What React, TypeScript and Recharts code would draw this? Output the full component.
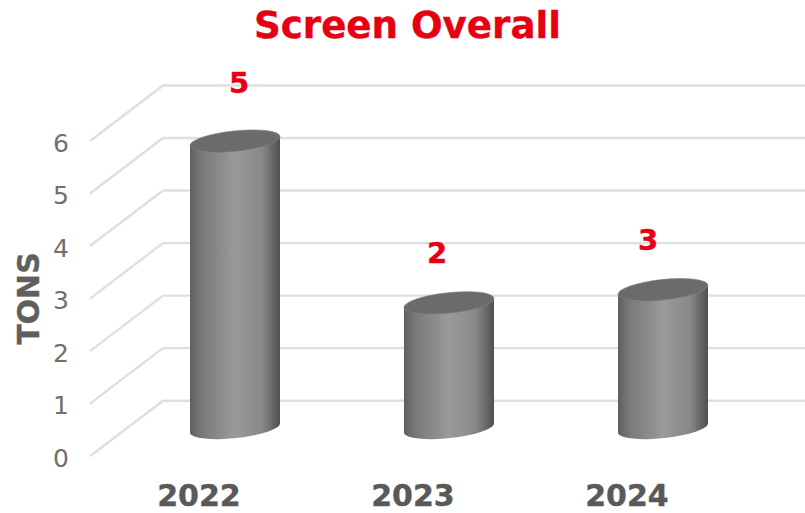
import { BarChart, Bar, XAxis, YAxis, CartesianGrid, LabelList } from 'recharts';

const years = ['2022', '2023', '2024'];
const tons = [5.47, 2.39, 2.64];
const yTicks = [0, 1, 2, 3, 4, 5, 6];

const chartData = years.map((year, i) => ({ year, tons: tons[i] }));

const FONT = '"DejaVu Sans", Verdana, sans-serif';
const RED = '#E60012';

// fake 3D: the wall sits at the plot, the floor comes forward by this much
const PLOT_LEFT = 163;
const DEPTH_X = 73;
const DEPTH_Y = 55.5;
const BAR_SHIFT_X = 35;

// hand placed in the original, not centred on the bars
const labelShift = [
  { dx: 4, dy: -48 },
  { dx: -12, dy: -40 },
  { dx: -15, dy: -40 },
];

const RX = 45.3;
const RY = 10.2;
const TILT = -6;

function Cylinder(props: any) {
  const { x, y, width, height } = props;
  const left = x - BAR_SHIFT_X;
  const right = left + width;
  const cx = left + width / 2;
  const topY = y + DEPTH_Y / 2;
  const baseY = topY + height;
  const rise = RX * Math.sin((TILT * Math.PI) / 180);
  const body = [
    `M${left},${topY - rise}`,
    `L${left},${baseY - rise}`,
    `A${RX},${RY} ${TILT} 0 0 ${right},${baseY + rise}`,
    `L${right},${topY + rise}`,
    `A${RX},${RY} ${TILT} 0 1 ${left},${topY - rise}`,
    'Z',
  ].join(' ');
  return (
    <g>
      <path d={body} fill="url(#cylinderBody)" />
      <ellipse
        cx={cx}
        cy={topY}
        rx={RX}
        ry={RY}
        fill="#6b6b69"
        stroke="#7d7d7b"
        strokeWidth={0.6}
        transform={`rotate(${TILT} ${cx} ${topY})`}
      />
    </g>
  );
}

function YTick({ y, payload }: any) {
  return (
    <g>
      <line
        x1={PLOT_LEFT}
        y1={y}
        x2={PLOT_LEFT - DEPTH_X}
        y2={y + DEPTH_Y}
        stroke="#dfdfdf"
        strokeWidth={2.4}
      />
      <text
        x={61}
        y={y + DEPTH_Y + 10.5}
        textAnchor="middle"
        fontFamily={FONT}
        fontSize={25}
        fill="#707070"
      >
        {payload.value}
      </text>
    </g>
  );
}

function XTick({ x, payload }: any) {
  return (
    <text
      x={x - 71}
      y={506}
      textAnchor="middle"
      fontFamily={FONT}
      fontSize={30}
      fontWeight="bold"
      stroke="#595959"
      strokeWidth={0.4}
      fill="#595959"
    >
      {payload.value}
    </text>
  );
}

function ValueLabel({ x, y, width, value, index }: any) {
  const shift = labelShift[index];
  return (
    <text
      x={x + width / 2 - BAR_SHIFT_X + shift.dx}
      y={y + DEPTH_Y / 2 + shift.dy}
      textAnchor="middle"
      fontFamily={FONT}
      fontSize={29}
      fontWeight="bold"
      stroke={RED}
      strokeWidth={0.4}
      fill={RED}
    >
      {Math.round(value)}
    </text>
  );
}

export default function App() {
  return (
    <div style={{ position: 'absolute', left: 0, top: 0, width: 805, height: 513 }}>
      <BarChart
        width={805}
        height={513}
        data={chartData}
        margin={{ top: 85.5, right: 0, bottom: 0, left: 0 }}
      >
        <defs>
          <linearGradient id="cylinderBody" x1="0" y1="0" x2="1" y2="0">
            <stop offset="0%" stopColor="#5f5f5f" />
            <stop offset="12%" stopColor="#787878" />
            <stop offset="50%" stopColor="#9a9a98" />
            <stop offset="80%" stopColor="#888886" />
            <stop offset="100%" stopColor="#505050" />
          </linearGradient>
        </defs>
        <CartesianGrid vertical={false} stroke="#dfdfdf" strokeWidth={2.4} />
        <YAxis
          width={PLOT_LEFT}
          domain={[0, 6]}
          ticks={yTicks}
          interval={0}
          axisLine={false}
          tickLine={false}
          tick={YTick}
        />
        <XAxis
          dataKey="year"
          height={112.3}
          axisLine={false}
          tickLine={false}
          tick={XTick}
        />
        <Bar dataKey="tons" barSize={90} shape={Cylinder} isAnimationActive={false}>
          <LabelList dataKey="tons" content={ValueLabel} />
        </Bar>
        <text
          x={407.5}
          y={38}
          textAnchor="middle"
          fontFamily={FONT}
          fontSize={37.2}
          fontWeight="bold"
          stroke={RED}
          strokeWidth={0.4}
          fill={RED}
        >
          Screen Overall
        </text>
        <text
          x={38.5}
          y={298.5}
          textAnchor="middle"
          transform="rotate(-90 38.5 298.5)"
          fontFamily={FONT}
          fontSize={30}
          fontWeight="bold"
          stroke="#5f5f5f"
          strokeWidth={0.4}
          fill="#5f5f5f"
        >
          TONS
        </text>
      </BarChart>
    </div>
  );
}
